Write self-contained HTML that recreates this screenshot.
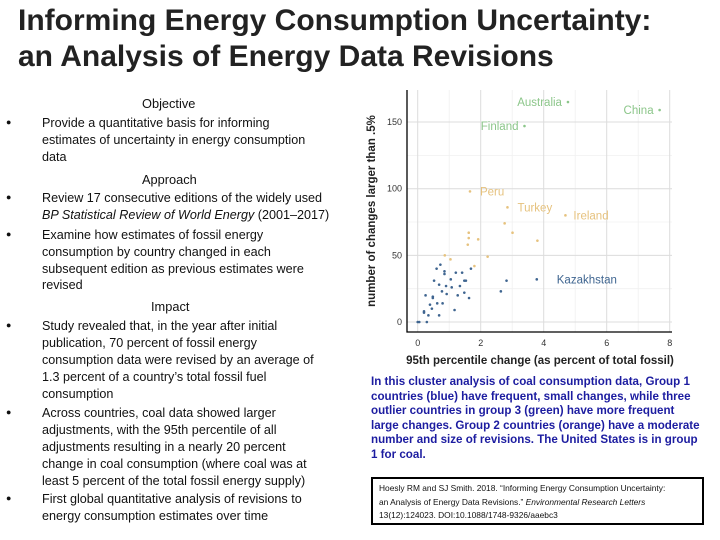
<!DOCTYPE html>
<html><head><meta charset="utf-8">
<style>
body{margin:0;width:720px;height:540px;background:#fff;position:relative;overflow:hidden;font-family:"Liberation Sans",Arial,sans-serif}
.t{position:absolute;left:18px;font-size:30px;font-weight:bold;color:#222;white-space:nowrap;line-height:34px}
.l{position:absolute;font-size:12.6px;color:#111;white-space:nowrap;line-height:17px}
.h{position:absolute;font-size:12.8px;color:#111;white-space:nowrap}
.b{position:absolute;left:6px;font-size:9px;color:#111}
.cap{position:absolute;left:371px;font-size:11.6px;font-weight:bold;color:#1c1ca0;white-space:nowrap;line-height:14.5px}
</style></head><body>
<div class="t" style="top:4px">Informing Energy Consumption Uncertainty:</div>
<div class="t" style="top:40px">an Analysis of Energy Data Revisions</div>

<div class="h" style="left:142px;top:96px">Objective</div>
<div class="b" style="top:117px">●</div>
<div class="l" style="left:42px;top:115px">Provide a quantitative basis for informing<br>estimates of uncertainty in energy consumption<br>data</div>

<div class="h" style="left:142px;top:172px">Approach</div>
<div class="b" style="top:192px">●</div>
<div class="l" style="left:42px;top:190px">Review 17 consecutive editions of the widely used<br><i>BP Statistical Review of World Energy</i> (2001–2017)</div>
<div class="b" style="top:229px">●</div>
<div class="l" style="left:42px;top:227px;line-height:16.8px">Examine how estimates of fossil energy<br>consumption by country changed in each<br>subsequent edition as previous estimates were<br>revised</div>

<div class="h" style="left:151px;top:299px">Impact</div>
<div class="b" style="top:320px">●</div>
<div class="l" style="left:42px;top:318px">Study revealed that, in the year after initial<br>publication, 70 percent of fossil energy<br>consumption data were revised by an average of<br>1.3 percent of a country’s total fossil fuel<br>consumption</div>
<div class="b" style="top:407px">●</div>
<div class="l" style="left:42px;top:405px">Across countries, coal data showed larger<br>adjustments, with the 95th percentile of all<br>adjustments resulting in a nearly 20 percent<br>change in coal consumption (where coal was at<br>least 5 percent of the total fossil energy supply)</div>
<div class="b" style="top:493px">●</div>
<div class="l" style="left:42px;top:491px">First global quantitative analysis of revisions to<br>energy consumption estimates over time</div>

<svg id="chart" style="position:absolute;left:0;top:0" width="720" height="540"></svg>

<div class="cap" style="top:375px">In this cluster analysis of coal consumption data, Group 1<br>countries (blue) have frequent, small changes, while three<br>outlier countries in group 3 (green) have more frequent<br>large changes. Group 2 countries (orange) have a moderate<br>number and size of revisions. The United States is in group<br>1 for coal.</div>

<div style="position:absolute;left:371px;top:477px;width:333px;height:48px;border:2px solid #000;box-sizing:border-box;font-size:8.4px;line-height:13.5px;padding:3px 0 0 6px;white-space:nowrap;color:#111">Hoesly RM and SJ Smith. 2018. “Informing Energy Consumption Uncertainty:<br>an Analysis of Energy Data Revisions.” <i>Environmental Research Letters</i><br>13(12):124023. DOI:10.1088/1748-9326/aaebc3</div>

<script>
const groupColors=["#3f6590","#e6c27e","#8cc68a"];
const xs=[4.77,7.68,3.39, 1.66,2.85,4.69,2.76,3.01,3.8,1.62,1.62,1.92,1.59,0.86,1.04,2.22,1.8,
3.78,2.82,2.64,1.69,1.48,1.53,1.41,1.21,1.48,1.63,1.27,1.34,1.17,1.05,1.08,0.9,0.72,0.6,0.85,0.85,0.52,0.68,0.77,0.92,0.79,0.62,0.48,0.48,0.45,0.25,0.34,0.68,0.2,0.2,0.05,0,0.29,0.39];
const ys=[165,159,147, 98,86,80,74,67,61,67,63,62,58,50,47,49,42,
32,31,23,40,31,31,37,37,22,18,20,27,9,32,26,27,43,40,38,36,31,28,23,21,14,14,19,18,10,20,5,5,7,8,0,0,0,13];
const groups=[2,2,2, 1,1,1,1,1,1,1,1,1,1,1,1,1,1,
0,0,0,0,0,0,0,0,0,0,0,0,0,0,0,0,0,0,0,0,0,0,0,0,0,0,0,0,0,0,0,0,0,0,0,0,0,0];
const labels=["Australia","China","Finland","Peru","Turkey","Ireland","Kazakhstan"];
const labelIdx=[0,1,2,3,4,5,17];
const labelDx=[-55,-47,-55,10,10,8,20];
const xTicks=[0,2,4,6,8];
const yTicks=[0,50,100,150];
const X=v=>417.7+v*31.5, Y=v=>322-v*1.333;
const svg=document.getElementById('chart');const NS="http://www.w3.org/2000/svg";
function mk(t,a){const e=document.createElementNS(NS,t);for(const k in a)e.setAttribute(k,a[k]);svg.appendChild(e);return e;}
for(let v=1;v<8;v+=2){const g=mk('line',{x1:X(v),x2:X(v),y1:90,y2:332,stroke:'#f0f0f0','stroke-width':0.8});}
for(let v=25;v<175;v+=50){const g=mk('line',{x1:407,x2:672,y1:Y(v),y2:Y(v),stroke:'#f0f0f0','stroke-width':0.8});}
xTicks.forEach(v=>{const g=mk('line',{x1:X(v),x2:X(v),y1:90,y2:332,stroke:'#dcdcdc','stroke-width':1});
const t=mk('text',{x:X(v),y:346,'font-size':9,'text-anchor':'middle',fill:'#333'});t.textContent=v;});
yTicks.forEach(v=>{const g=mk('line',{x1:407,x2:672,y1:Y(v),y2:Y(v),stroke:'#dcdcdc','stroke-width':1});
const t=mk('text',{x:402,y:Y(v)+3,'font-size':9,'text-anchor':'end',fill:'#333'});t.textContent=v;});
const ax=mk('path',{d:'M407,90 V332 H672',stroke:'#000','stroke-width':1.3,fill:'none'});
xs.forEach((v,i)=>{const c=mk('circle',{cx:X(v),cy:Y(ys[i]),r:1.3,fill:groupColors[groups[i]]});});
labels.forEach((s,k)=>{const i=labelIdx[k];const t=mk('text',{x:X(xs[i])+labelDx[k],y:Y(ys[i])+4,'font-size':11.5,fill:groupColors[groups[i]],'text-anchor':labelDx[k]<0?'end':'start'});t.textContent=s;
if(labelDx[k]<0)t.setAttribute('x',X(xs[i])-6);
});
const xt=mk('text',{x:540,y:364,'font-size':11.5,'font-weight':'bold','text-anchor':'middle',fill:'#222'});xt.textContent='95th percentile change (as percent of total fossil)';
const yt=mk('text',{x:0,y:0,'font-size':11.5,'font-weight':'bold','text-anchor':'middle',fill:'#222',transform:'translate(375,211) rotate(-90)'});yt.textContent='number of changes larger than .5%';
</script>
</body></html>
